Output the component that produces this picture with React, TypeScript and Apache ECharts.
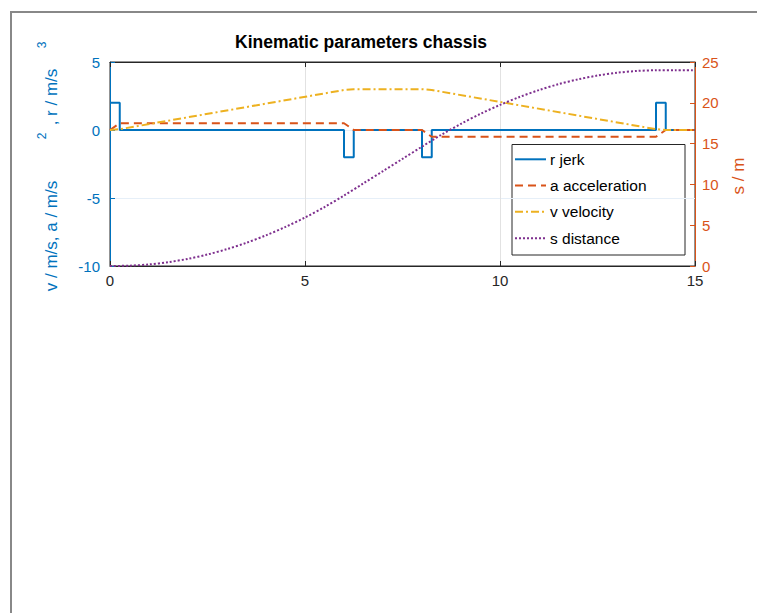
import React, { useEffect, useRef } from "react";
import * as echarts from "echarts";

// ---- data ----
const seriesNames = ["r jerk", "a acceleration", "v velocity", "s distance"];
const xTicks = [0, 5, 10, 15];

// jerk r (m/s^3), step function: value holds until next time
const jerkT = [0, 0.25, 6.0, 6.25, 8.0, 8.25, 14.0, 14.25, 15];
const jerkV = [2, 0, -2, 0, -2, 0, 2, 0, 0];

// acceleration a (m/s^2)
const accT = [0, 0.25, 6.0, 6.25, 8.0, 8.25, 14.0, 14.25, 15];
const accV = [0, 0.5, 0.5, 0, 0, -0.5, -0.5, 0, 0];

// velocity v (m/s)
const velT = [0, 0.25, 6.0, 6.25, 8.0, 8.25, 14.0, 14.25, 15];
const velV = [0, 0.06, 2.94, 3.0, 3.0, 2.94, 0.06, 0, 0];

// distance s (m), right axis
const distT = [0, 0.5, 1, 1.5, 2, 2.5, 3, 3.5, 4, 4.5, 5, 5.5, 6, 6.5, 7, 7.5, 8, 8.5, 9, 9.5, 10, 10.5, 11, 11.5, 12, 12.5, 13, 13.5, 14, 14.5, 15];
const distV = [0, 0.04, 0.19, 0.47, 0.88, 1.41, 2.07, 2.85, 3.76, 4.79, 5.94, 7.22, 8.63, 10.13, 11.63, 13.13, 14.63, 16.09, 17.43, 18.65, 19.74, 20.71, 21.56, 22.28, 22.87, 23.34, 23.68, 23.9, 23.99, 24.0, 24.0];

const BLUE = "#0072BD";
const ORANGE = "#D95319";
const YELLOW = "#EDB120";
const PURPLE = "#7E2F8E";
const DARK = "#262626";
const FONT = "'Liberation Sans', Arial, Helvetica, sans-serif";

const colors = [BLUE, ORANGE, YELLOW, PURPLE];
const dashes: (string | number[])[] = ["solid", [8, 5], [8, 3, 2, 3], [2, 2]];

const zip = (a: number[], b: number[]) => a.map((v, i) => [v, b[i]]);

export default function App() {
  const ref = useRef<HTMLDivElement>(null);
  useEffect(() => {
    if (!ref.current) return;
    const chart = echarts.init(ref.current, null, { renderer: "svg" });

    const legendX = 512, legendY = 144.5, legendW = 173, legendH = 110.5;
    const rowY = [159.3, 185.5, 211.8, 238.3];
    const legendEls: any[] = [
      {
        type: "rect",
        shape: { x: legendX, y: legendY, width: legendW, height: legendH },
        style: { fill: "#fff", stroke: DARK, lineWidth: 1 },
      },
    ];
    seriesNames.forEach((n, i) => {
      legendEls.push({
        type: "line",
        shape: { x1: 515, y1: rowY[i], x2: 546, y2: rowY[i] },
        style: {
          stroke: colors[i],
          lineWidth: 2,
          lineDash: dashes[i] === "solid" ? null : (dashes[i] as number[]),
        },
      });
      legendEls.push({
        type: "text",
        x: 550,
        y: rowY[i],
        style: {
          text: n,
          fill: "#000",
          font: `15.5px ${FONT}`,
          textAlign: "left",
          textVerticalAlign: "middle",
        },
      });
    });

    const option: any = {
      animation: false,
      backgroundColor: "#fff",
      grid: {
        left: 110,
        top: 62,
        width: 585,
        height: 204,
        show: true,
        borderColor: DARK,
        borderWidth: 1,
        backgroundColor: "transparent",
      },
      xAxis: [
        {
          type: "value",
          min: xTicks[0],
          max: xTicks[xTicks.length - 1],
          interval: 5,
          position: "bottom",
          axisLine: { onZero: false, lineStyle: { color: DARK, width: 1 } },
          axisTick: { inside: true, length: 5, lineStyle: { color: DARK } },
          axisLabel: { color: DARK, fontSize: 15, fontFamily: FONT, margin: 7 },
          splitLine: { show: true, lineStyle: { color: "#e2e2e2", width: 1 } },
        },
        {
          type: "value",
          min: xTicks[0],
          max: xTicks[xTicks.length - 1],
          interval: 5,
          position: "top",
          axisLine: { show: true, onZero: false, lineStyle: { color: DARK, width: 1 } },
          axisTick: { inside: true, length: 5, lineStyle: { color: DARK } },
          axisLabel: { show: false },
          splitLine: { show: false },
        },
      ],
      yAxis: [
        {
          type: "value",
          min: -10,
          max: 5,
          interval: 5,
          position: "left",
          axisLine: { show: true, onZero: false, lineStyle: { color: BLUE, width: 1 } },
          axisTick: { show: true, inside: true, length: 5, lineStyle: { color: BLUE } },
          axisLabel: { color: BLUE, fontSize: 15, fontFamily: FONT, margin: 10 },
          splitLine: { show: true, lineStyle: { color: "#e6eff8", width: 1 } },
        },
        {
          type: "value",
          min: 0,
          max: 25,
          interval: 5,
          position: "right",
          axisLine: { show: true, onZero: false, lineStyle: { color: ORANGE, width: 1 } },
          axisTick: { show: true, inside: true, length: 5, lineStyle: { color: ORANGE } },
          axisLabel: { color: ORANGE, fontSize: 15, fontFamily: FONT, margin: 7 },
          splitLine: { show: false },
        },
      ],
      series: [
        {
          name: seriesNames[0],
          type: "line",
          step: "end",
          data: zip(jerkT, jerkV),
          showSymbol: false,
          symbol: "none",
          lineStyle: { color: BLUE, width: 2, type: "solid" },
          xAxisIndex: 0,
          yAxisIndex: 0,
        },
        {
          name: seriesNames[1],
          type: "line",
          data: zip(accT, accV),
          symbol: "none",
          lineStyle: { color: ORANGE, width: 2, type: dashes[1] },
          yAxisIndex: 0,
        },
        {
          name: seriesNames[2],
          type: "line",
          data: zip(velT, velV),
          symbol: "none",
          lineStyle: { color: YELLOW, width: 2, type: dashes[2] },
          yAxisIndex: 0,
        },
        {
          name: seriesNames[3],
          type: "line",
          data: zip(distT, distV),
          symbol: "none",
          smooth: 0.3,
          lineStyle: { color: PURPLE, width: 2, type: dashes[3] },
          yAxisIndex: 1,
        },
      ],
      graphic: [
        {
          type: "group",
          z: 100,
          children: [
            // figure frame
            { type: "line", shape: { x1: 10, y1: 12, x2: 757, y2: 12 }, style: { stroke: "#888", lineWidth: 2 } },
            { type: "line", shape: { x1: 11, y1: 12, x2: 11, y2: 613 }, style: { stroke: "#888", lineWidth: 2 } },
            // title
            {
              type: "text",
              x: 361,
              y: 42,
              style: {
                text: "Kinematic parameters chassis",
                fill: "#000",
                font: `bold 17.5px ${FONT}`,
                textAlign: "center",
                textVerticalAlign: "middle",
              },
            },
            // left axis label
            {
              type: "text",
              x: 51,
              y: 236,
              rotation: Math.PI / 2,
              style: { text: "v / m/s, a / m/s", fill: BLUE, font: `17px ${FONT}`, textAlign: "center", textVerticalAlign: "middle" },
            },
            {
              type: "text",
              x: 42,
              y: 136,
              rotation: Math.PI / 2,
              style: { text: "2", fill: BLUE, font: `12px ${FONT}`, textAlign: "center", textVerticalAlign: "middle" },
            },
            {
              type: "text",
              x: 51,
              y: 97,
              rotation: Math.PI / 2,
              style: { text: ", r / m/s", fill: BLUE, font: `17px ${FONT}`, textAlign: "center", textVerticalAlign: "middle" },
            },
            {
              type: "text",
              x: 42,
              y: 45,
              rotation: Math.PI / 2,
              style: { text: "3", fill: BLUE, font: `12px ${FONT}`, textAlign: "center", textVerticalAlign: "middle" },
            },
            // right axis label
            {
              type: "text",
              x: 738,
              y: 176,
              rotation: Math.PI / 2,
              style: { text: "s / m", fill: ORANGE, font: `17px ${FONT}`, textAlign: "center", textVerticalAlign: "middle" },
            },
            ...legendEls,
          ],
        },
      ],
    };
    chart.setOption(option);
    return () => chart.dispose();
  }, []);

  return (
    <div
      ref={ref}
      style={{ position: "fixed", left: 0, top: 0, width: 757, height: 613, background: "#fff" }}
    />
  );
}
